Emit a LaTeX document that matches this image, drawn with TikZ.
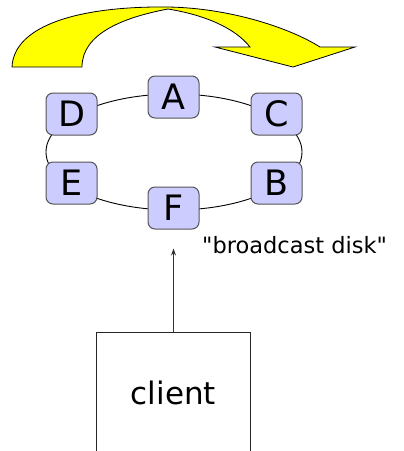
\documentclass[tikz,border=0pt]{standalone}
\usepackage{fontspec}
\setmainfont{DejaVu Sans}[Ligatures=TeXOff]
\usetikzlibrary{arrows.meta}
\definecolor{diskfill}{HTML}{CCCCFF}
\definecolor{diskedge}{HTML}{555555}
\definecolor{spin}{HTML}{FFFF00}
\tikzset{
  slot/.style={draw=diskedge, line width=1pt, fill=diskfill, rounded corners=7pt,
    minimum width=51pt, minimum height=42pt, inner sep=0pt,
    font=\fontsize{35}{35}\selectfont},
  ring/.style={draw=black, line width=0.9pt},
  clientbox/.style={draw=black!85, line width=1pt, minimum width=154pt, minimum height=122pt,
    inner sep=0pt, font=\fontsize{31}{31}\selectfont},
  fetch/.style={draw=black!80, line width=0.8pt, -{Stealth[length=7pt,width=5pt]}},
}
\begin{document}
\begin{tikzpicture}[x=1pt,y=-1pt]
\useasboundingbox (0,0) rectangle (404,451);
% rotation arrow above the disk
\draw[fill=spin, draw=black, line width=0.8pt]
  (12,67) .. controls (14,25) and (80,6) .. (168,7)
  .. controls (230,8) and (290,28) .. (320,47)
  -- (355,47) -- (293,67) -- (215,47) -- (250,47)
  .. controls (235,28) and (205,15) .. (168,9)
  .. controls (120,18) and (82,35) .. (82,67) -- cycle;
% the broadcast ring
\coordinate (hub) at (174,152);
\draw[ring] (hub) ellipse [x radius=128, y radius=58];
% data items on the ring
\node[slot] (A) at (173.5,97) {A};
\node[slot] (D) at (71.5,114) {D};
\node[slot] (C) at (276.5,114) {C};
\node[slot] (E) at (71.5,183) {E};
\node[slot] (B) at (276.5,183) {B};
\node[slot] (F) at (173.5,208) {F};
% client listening to the broadcast
\node[clientbox] (client) at (173.5,393) {client};
\draw[fetch, shorten >=19pt] (client.north) -- (F.south);
\node[anchor=west, inner sep=0pt, font=\fontsize{22.5}{22.5}\selectfont] (label) at (202,245)
  {"broadcast disk"};
\end{tikzpicture}
\end{document}
